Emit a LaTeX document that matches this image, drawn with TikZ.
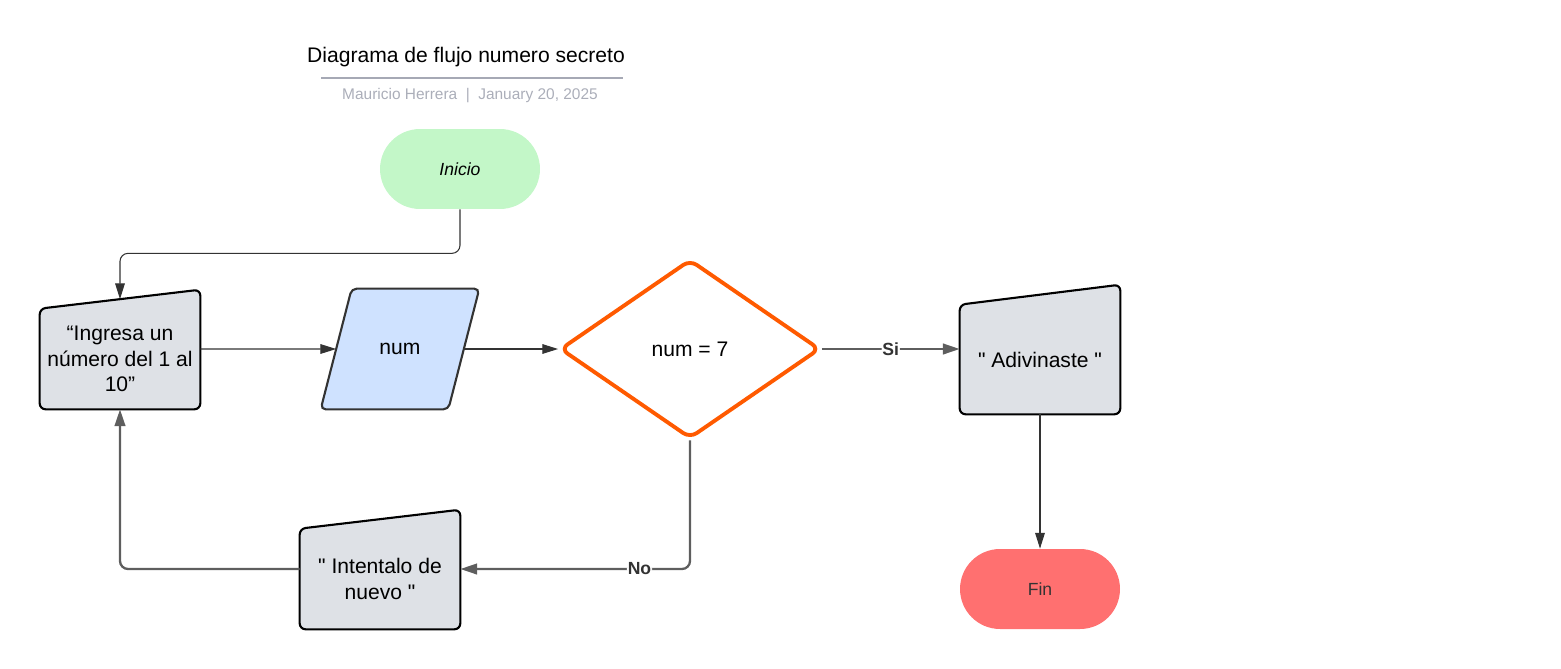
\documentclass[tikz,border=0pt]{standalone}
\usepackage{fontspec}
\setmainfont{Liberation Sans}
\usetikzlibrary{shapes.geometric, arrows.meta, backgrounds}

\definecolor{startgreen}{HTML}{C3F7C8}
\definecolor{endred}{HTML}{FF7070}
\definecolor{boxgray}{HTML}{DEE1E6}
\definecolor{numblue}{HTML}{CFE2FF}
\definecolor{condorange}{HTML}{FF5A00}
\definecolor{linedark}{HTML}{333333}
\definecolor{linegray}{HTML}{5E5E5E}
\definecolor{rulegray}{HTML}{A6A9B5}
\definecolor{subgray}{HTML}{ABAEB9}

\begin{document}
\begin{tikzpicture}[x=0.02cm, y=-0.02cm,
  every node/.style={font=\fontsize{12}{14.5}\selectfont, align=center},
  term/.style={rounded corners=0.8cm, minimum width=3.2cm, minimum height=1.6cm, font=\fontsize{10}{12}\selectfont},
  msgbox/.style={minimum width=3.2cm, inner sep=0pt},
  msgshape/.style={fill=boxgray, draw=black, line width=1.2pt, rounded corners=0.12cm},
  datain/.style={minimum width=3.16cm, minimum height=2.4cm, inner sep=0pt},
  datashape/.style={fill=numblue, draw=linedark, line width=1.2pt, rounded corners=0.1cm},
  cond/.style={diamond, draw=condorange, fill=white, line width=2.2pt, rounded corners=0.16cm, minimum width=5.2cm, minimum height=3.58cm, inner sep=0pt},
  thinline/.style={draw=linedark, line width=0.6pt, -{Triangle[length=9pt,width=5.5pt]}},
  thickline/.style={draw=linegray, line width=1.3pt, rounded corners=0.16cm, -{Triangle[length=9.5pt,width=6pt]}},
  branch/.style={fill=white, inner sep=0.5pt, text=linedark, font=\bfseries\fontsize{10}{12}\selectfont}
]

\useasboundingbox (0,0) rectangle (1561,669);

% header
\node (title) at (466,57) {Diagrama de flujo numero secreto};
\draw[rulegray, line width=1.1pt] (321,78) -- (623,78);
\node[text=subgray, font=\fontsize{8.8}{11}\selectfont] (sub) at (470,95.5) {Mauricio Herrera\hspace{0.55em}|\hspace{0.55em}January 20, 2025};

% nodes
\node[term, fill=startgreen] (inicio) at (460,169) {\itshape Inicio};
\node[msgbox, minimum height=2cm] (ingresa) at (120,359) {“Ingresa un\\número del 1 al\\10”};
\node[datain] (num) at (400,349) {num};
\node[cond] (test) at (690,349) {num = 7};
\node[msgbox, minimum height=2.18cm] (adivina) at (1040,359.5) {\textquotedbl{} Adivinaste \textquotedbl};
\node[msgbox, minimum height=2cm] (intenta) at (380,579) {\textquotedbl{} Intentalo de\\nuevo \textquotedbl};
\node[term, fill=endred, text=linedark] (fin) at (1040,589) {Fin};

% shapes behind the texts
\begin{scope}[on background layer]
\foreach \n/\s in {ingresa/0.38, adivina/0.4, intenta/0.38}
  \filldraw[msgshape] (\n.south west) -- (\n.north west) -- ([yshift=\s cm]\n.north east) -- (\n.south east) -- cycle;
\filldraw[datashape] (num.south west) -- ([xshift=0.62cm]num.north west) -- (num.north east) -- ([xshift=-0.62cm]num.south east) -- cycle;
\end{scope}

% connectors
\draw[thinline, rounded corners=0.16cm] (inicio.south) -- ++(0,44) -| ([yshift=0.19cm]ingresa.north);
\draw[thinline] ([yshift=0.2cm]ingresa.east) -- ([xshift=0.31cm]num.west);
\draw[thinline] ([xshift=-0.31cm]num.east) -- (test.west);
\draw[thickline] (test.east) -- node[branch] {Si} (test.east -| adivina.west);
\draw[thickline] (test.south) |- node[branch, pos=0.61] {No} ([yshift=0.2cm]intenta.east);
\draw[thickline] ([yshift=0.2cm]intenta.west) -| (ingresa.south);
\draw[thinline] (adivina.south) -- (fin.north);

\end{tikzpicture}
\end{document}
